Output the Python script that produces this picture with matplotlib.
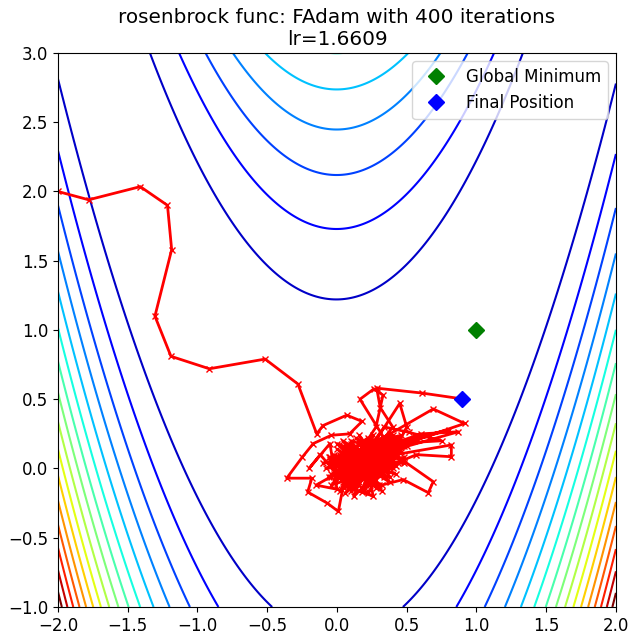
import numpy as np
import matplotlib
matplotlib.use("Agg")
from matplotlib import pyplot as plt

plt.rcParams['font.size'] = 12

# contour setup
x_range = (-2.0, 2.0)
y_range = (-1.0, 3.0)
levels = np.arange(0, 2401, 150)

minimum = (1.0, 1.0)

# optimizer path
path_xy = [
    (-2.0, 2.0), (-1.78, 1.94), (-1.41, 2.035), (-1.215, 1.90), (-1.185, 1.58),
    (-1.305, 1.10), (-1.19, 0.81), (-0.915, 0.72), (-0.515, 0.79), (-0.28, 0.61),
    (-0.145, 0.25), (-0.10, 0.31), (0.07, 0.385), (0.18, 0.34), (0.09, 0.25),
    (-0.04, 0.24), (-0.17, 0.18), (-0.25, 0.08), (-0.36, -0.07), (-0.18, -0.07),
    (-0.21, -0.17), (-0.07, -0.25), (0.01, -0.31), (0.05, -0.10), (-0.12, 0.10),
    (-0.20, 0.00), (-0.05, 0.18), (0.00, -0.15), (-0.15, -0.12), (0.15, 0.05),
    (0.30, 0.12), (0.20, -0.05), (0.10, 0.02), (-0.05, 0.08), (0.00, -0.05),
    (0.12, -0.15), (0.26, -0.20), (0.22, 0.00), (0.35, 0.20), (0.165, 0.50),
    (0.265, 0.575), (0.33, 0.53), (0.28, 0.30), (0.15, 0.10), (0.05, -0.02),
    (0.20, 0.08), (0.45, 0.47), (0.50, 0.30), (0.40, 0.10), (0.25, 0.05),
    (0.10, -0.08), (0.18, 0.15), (0.38, 0.25), (0.69, 0.43), (0.915, 0.325),
    (0.55, 0.20), (0.30, 0.05), (0.12, -0.05), (0.24, 0.12), (0.60, 0.25),
    (0.87, 0.265), (0.50, 0.16), (0.28, 0.02), (0.08, -0.12), (0.18, -0.02),
    (0.42, 0.10), (0.82, 0.17), (0.82, 0.085), (0.57, 0.10), (0.45, 0.05),
    (0.22, -0.10), (0.05, 0.05), (0.30, 0.18), (0.69, -0.095), (0.655, -0.175),
    (0.475, -0.08), (0.32, -0.12), (0.15, -0.05), (0.15, 0.05), (0.40, 0.15),
    (-0.02, -0.08), (0.32, 0.10), (0.05, -0.14), (0.42, 0.02), (-0.05, 0.02),
    (0.28, 0.20), (0.18, -0.17), (0.46, 0.12), (0.02, 0.10), (0.34, -0.06),
    (0.10, 0.18), (0.24, -0.12), (0.44, 0.22), (-0.04, -0.04), (0.30, 0.02),
    (0.14, 0.22), (0.38, -0.10), (0.00, 0.14), (0.20, -0.02), (0.48, 0.16),
    (0.06, -0.08), (0.26, 0.14), (0.12, -0.20), (0.40, 0.06), (-0.08, 0.00),
    (0.34, 0.22), (0.20, -0.14), (0.48, 0.08), (0.08, 0.04), (0.28, -0.08),
    (0.04, 0.20), (0.38, 0.00), (0.14, -0.06), (0.30, 0.16), (-0.04, -0.12),
    (0.44, 0.04), (0.16, 0.10), (0.32, -0.16), (0.00, 0.06), (0.22, 0.22),
    (0.08, -0.12), (0.40, 0.14), (-0.10, 0.04), (0.28, 0.06), (0.12, -0.02),
    (0.50, 0.20), (0.24, -0.04), (0.04, 0.16), (0.34, 0.08), (0.06, -0.18),
    (0.20, 0.04), (0.42, -0.04), (-0.02, 0.10), (0.30, -0.12), (0.14, 0.16),
    (0.46, 0.24), (0.18, 0.12), (-0.04, -0.06), (0.36, 0.12), (0.16, -0.10),
    (0.26, 0.24), (0.06, 0.00), (0.32, 0.02), (-0.06, 0.08), (0.22, -0.18),
    (0.44, 0.18), (0.10, 0.06), (0.28, 0.10), (0.02, -0.02), (0.40, 0.00),
    (0.08, 0.12), (0.18, -0.06), (0.36, 0.20), (-0.02, 0.00), (0.14, -0.14),
    (0.34, 0.14), (0.48, 0.04), (0.20, 0.02), (0.06, 0.10), (0.28, -0.14),
    (0.10, 0.20), (0.42, 0.10), (-0.06, -0.06), (0.24, 0.04), (0.16, 0.24),
    (0.38, -0.06), (0.04, 0.02), (0.30, 0.20), (0.08, -0.08), (0.44, 0.14),
    (0.12, 0.00), (0.34, 0.30), (0.52, 0.26), (0.75, 0.20), (0.40, 0.18),
    (0.18, 0.06), (0.02, -0.16), (0.22, -0.02), (0.42, 0.16), (0.80, 0.28),
    (0.48, 0.20), (0.20, 0.08), (0.06, 0.14), (0.26, 0.00), (0.10, -0.16),
    (0.36, 0.10), (0.16, 0.02), (0.00, 0.18), (0.30, 0.06), (0.12, -0.04),
    (0.40, 0.24), (0.18, 0.16), (0.04, -0.10), (0.32, -0.02), (0.08, 0.08),
    (0.38, 0.16), (0.22, -0.08), (0.02, 0.04), (0.28, 0.14), (0.40, 0.30),
    (0.31, 0.44), (0.285, 0.58), (0.607, 0.545), (0.894, 0.503),
]
path = np.array(path_xy)

# rosenbrock function
xs = np.linspace(x_range[0], x_range[1], 250)
ys = np.linspace(y_range[0], y_range[1], 250)
X, Y = np.meshgrid(xs, ys)
Z = (1 - X) ** 2 + 100 * (Y - X ** 2) ** 2

fig, ax = plt.subplots(figsize=(6.35, 6.43), dpi=100)
fig.subplots_adjust(left=0.0913, right=0.970, top=0.9176, bottom=0.056)

ax.contour(X, Y, Z, levels=levels, cmap='jet')
ax.plot(path[:, 0], path[:, 1], color='r', marker='x', markersize=4, linewidth=2)
ax.plot(*minimum, 'D', color='green', markersize=8, label='Global Minimum')
ax.plot(path[-1, 0], path[-1, 1], 'D', color='blue', markersize=8, label='Final Position')

ax.set_xlim(x_range)
ax.set_ylim(y_range)
ax.set_title("rosenbrock func: FAdam with 400 iterations\nlr=1.6609")
ax.legend(loc='upper right')

fig.savefig('out.png', dpi=100)
